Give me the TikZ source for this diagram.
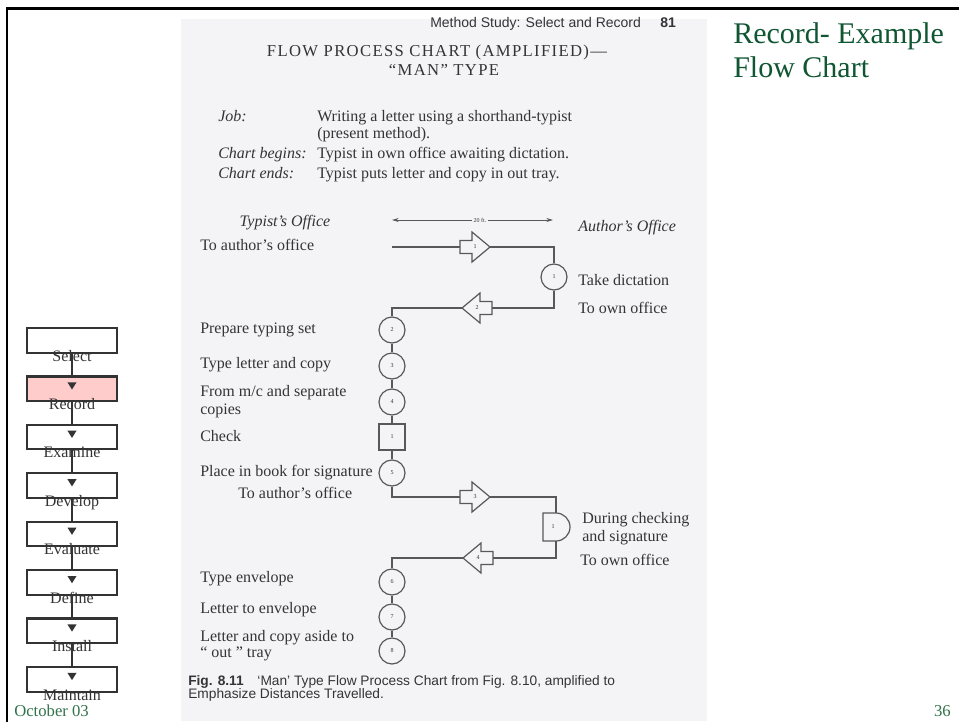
\documentclass[tikz,border=0pt]{standalone}
\usepackage{fontspec}
\setmainfont{Liberation Serif}
\setsansfont{Liberation Sans}
\newfontfamily\spacedserif[LetterSpace=8]{Liberation Serif}
\usetikzlibrary{arrows.meta}
\definecolor{scanbg}{RGB}{244,244,247}
\definecolor{ink}{RGB}{52,52,56}
\definecolor{chartline}{RGB}{88,88,92}
\definecolor{sideink}{RGB}{51,51,51}
\definecolor{pinkfill}{RGB}{255,204,204}
\definecolor{titlegreen}{RGB}{16,86,50}
\definecolor{footgreen}{RGB}{50,115,75}
\tikzset{
  tarrow/.pic={
    \draw[chartline, line width=0.9pt, fill=scanbg, line join=miter]
      (0,-6.5) -- (12,-6.5) -- (12,-15) -- (30,0) -- (12,15) -- (12,6.5) -- (0,6.5) -- cycle;
    \node[font=\fontsize{4.5}{5}\selectfont, text=ink, inner sep=0pt] at (15,0) {#1};
    \coordinate (-t) at (0,0);
    \coordinate (-h) at (30,0);
  }
}
\begin{document}
\begin{tikzpicture}[x=0.75pt,y=-0.75pt,
  sbox/.style={draw=sideink, line width=1.6pt, fill=white, minimum width=67.5pt, minimum height=18.4pt, inner sep=0pt},
  slabel/.style={anchor=base, inner sep=0pt, text=sideink, font=\fontsize{12}{14}\selectfont},
  sconn/.style={draw=sideink, line width=1.8pt},
  stri/.style={fill=sideink},
  ctext/.style={anchor=mid west, inner sep=0pt, text=ink, font=\fontsize{12}{13}\selectfont},
  ctexti/.style={ctext, font=\fontsize{12}{13}\selectfont\itshape},
  opc/.style={circle, draw=chartline, line width=0.9pt, minimum size=19.5pt, inner sep=0pt, fill=scanbg, text=ink, font=\fontsize{4.5}{5}\selectfont},
  insp/.style={rectangle, draw=chartline, line width=0.9pt, minimum size=19.5pt, inner sep=0pt, fill=scanbg, text=ink, font=\fontsize{4.5}{5}\selectfont},
  conn/.style={draw=chartline, line width=0.9pt},
  dim/.style={draw=chartline, line width=0.7pt, -{Stealth[length=5pt,width=3pt]}},
]
\useasboundingbox (0,0) rectangle (959,721);
\fill[white] (0,0) rectangle (959,721);
% scanned page
\fill[scanbg] (181,19) rectangle (707,721);
% frame
\draw[line width=2.1pt, line cap=rect] (7,721) -- (7,8.5) -- (959,8.5);

% title
\node[anchor=base west, inner sep=0pt, text=titlegreen, font=\fontsize{22.5}{26}\selectfont] (title1) at (733,43) {Record- Example};
\node[anchor=base west, inner sep=0pt, text=titlegreen, font=\fontsize{22.5}{26}\selectfont] (title2) at (733,77) {Flow Chart};
% footer
\node[anchor=base west, inner sep=0pt, text=footgreen, font=\fontsize{12.5}{14}\selectfont] (date) at (14,716.5) {October 03};
\node[anchor=base east, inner sep=0pt, text=footgreen, font=\fontsize{12.5}{14}\selectfont] (page) at (951,716.5) {36};

% sidebar
\node[sbox] (b1) at (72,340.3) {};
\node[sbox, fill=pinkfill] (b2) at (72,388.7) {};
\node[sbox] (b3) at (72,437.1) {};
\node[sbox] (b4) at (72,485.6) {};
\node[sbox] (b5) at (72,534.0) {};
\node[sbox] (b6) at (72,582.4) {};
\node[sbox] (b7) at (72,630.8) {};
\node[sbox] (b8) at (72,679.3) {};
\draw[sconn] (b1.south) -- (b2.north);
\draw[sconn] (b2.south) -- (b3.north);
\draw[sconn] (b3.south) -- (b4.north);
\draw[sconn] (b4.south) -- (b5.north);
\draw[sconn] (b5.south) -- (b6.north);
\draw[sconn] (b6.south) -- (b7.north);
\draw[sconn] (b7.south) -- (b8.north);
\foreach \b in {b2,b3,b4,b5,b6,b7,b8}{
  \fill[stri] ([yshift=-5.2pt]\b.north) ++(-3.4pt,0) -- ++(6.8pt,0) -- ++(-3.4pt,-5.4pt) -- cycle;
}
\node[slabel] (l1) at ([yshift=-5.6pt]b1.south) {Select};
\node[slabel] (l2) at ([yshift=-5.6pt]b2.south) {Record};
\node[slabel] (l3) at ([yshift=-5.6pt]b3.south) {Examine};
\node[slabel] (l4) at ([yshift=-5.6pt]b4.south) {Develop};
\node[slabel] (l5) at ([yshift=-5.6pt]b5.south) {Evaluate};
\node[slabel] (l6) at ([yshift=-5.6pt]b6.south) {Define};
\node[slabel] (l7) at ([yshift=-5.6pt]b7.south) {Install};
\node[slabel] (l8) at ([yshift=-5.6pt]b8.south) {Maintain};

% page header of scan
\node[anchor=base west, inner sep=0pt, text=ink, font=\sffamily\fontsize{10.5}{12}\selectfont] (runhead) at (430,27.5) {Method Study: Select and Record};
\node[anchor=base west, inner sep=0pt, text=ink, font=\sffamily\bfseries\fontsize{10.5}{12}\selectfont] (pgno) at (660,27.5) {81};
\node[anchor=base, inner sep=0pt, text=ink, font=\spacedserif\fontsize{12.5}{14}\selectfont] (hd1) at (437,56.5) {FLOW PROCESS CHART (AMPLIFIED)—};
\node[anchor=base, inner sep=0pt, text=ink, font=\spacedserif\fontsize{12.5}{14}\selectfont] (hd2) at (444,75) {“MAN” TYPE};

\node[ctexti] (job) at (218,118) {Job:};
\node[ctext] (jobt1) at (317,118) {Writing a letter using a shorthand-typist};
\node[ctext] (jobt2) at (317,135) {(present method).};
\node[ctexti] (cb) at (218,155) {Chart begins:};
\node[ctext] (cbt) at (317,155) {Typist in own office awaiting dictation.};
\node[ctexti] (ce) at (218,175) {Chart ends:};
\node[ctext] (cet) at (317,175) {Typist puts letter and copy in out tray.};

% column headings and distance
\node[ctexti, anchor=mid] (typoff) at (285,223) {Typist’s Office};
\node[ctexti] (autoff) at (578,228) {Author’s Office};
\node[inner sep=1pt, text=ink, font=\fontsize{4.5}{5}\selectfont] (ft) at (480,220) {20 ft.};
\coordinate (dl) at (392,220);
\coordinate (dr) at (553,220);
\draw[dim] (ft.west) -- (dl);
\draw[dim] (ft.east) -- (dr);

% symbols
\coordinate (s0) at (392,247);
\pic (a1) at (460,247) {tarrow={1}};
\node[opc] (c1) at (554,277) {1};
\pic[xscale=-1] (a2) at (492,308) {tarrow={2}};
\node[opc] (c2) at (392,330) {2};
\node[opc] (c3) at (392,366) {3};
\node[opc] (c4) at (392,402) {4};
\node[insp] (sq1) at (392,437) {1};
\node[opc] (c5) at (392,473) {5};
\pic (a3) at (460,497) {tarrow={3}};
\coordinate (d1t) at (556,513);
\coordinate (d1b) at (556,541);
\draw[chartline, line width=0.9pt, fill=scanbg] (543,513) -- (d1t) arc[start angle=90, end angle=-90, radius=10.5pt] -- (543,541) -- cycle;
\node[inner sep=0pt, text=ink, font=\fontsize{4.5}{5}\selectfont] (d1) at (553,527) {1};
\pic[xscale=-1] (a4) at (493,558) {tarrow={4}};
\node[opc] (c6) at (392,582) {6};
\node[opc] (c7) at (392,617) {7};
\node[opc] (c8) at (392,651) {8};

% connectors
\draw[conn] (s0) -- (a1-t);
\draw[conn] (a1-h) -| (c1);
\draw[conn] (c1) |- (a2-t);
\draw[conn] (a2-h) -| (c2);
\draw[conn] (c2) -- (c3);
\draw[conn] (c3) -- (c4);
\draw[conn] (c4) -- (sq1);
\draw[conn] (sq1) -- (c5);
\draw[conn] (c5) |- (a3-t);
\draw[conn] (a3-h) -| (d1t);
\draw[conn] (d1b) |- (a4-t);
\draw[conn] (a4-h) -| (c6);
\draw[conn] (c6) -- (c7);
\draw[conn] (c7) -- (c8);

% labels
\node[ctext] (t1) at (200,247) {To author’s office};
\node[ctext] (t2) at (578,282) {Take dictation};
\node[ctext] (t3) at (578,310) {To own office};
\node[ctext] (t4) at (200,330) {Prepare typing set};
\node[ctext] (t5) at (200,365) {Type letter and copy};
\node[ctext] (t6) at (200,393) {From m/c and separate};
\node[ctext] (t6b) at (200,411) {copies};
\node[ctext] (t7) at (200,438) {Check};
\node[ctext] (t8) at (200,473) {Place in book for signature};
\node[ctext] (t9) at (238,495) {To author’s office};
\node[ctext] (t10) at (582,520) {During checking};
\node[ctext] (t10b) at (582,538) {and signature};
\node[ctext] (t11) at (580,562) {To own office};
\node[ctext] (t12) at (200,579) {Type envelope};
\node[ctext] (t13) at (200,610) {Letter to envelope};
\node[ctext] (t14) at (200,638) {Letter and copy aside to};
\node[ctext] (t14b) at (200,654) {“ out ” tray};

% caption
\node[anchor=base west, inner sep=0pt, text=ink, font=\sffamily\fontsize{10.3}{12}\selectfont] (cap1) at (188,685) {\textbf{Fig. 8.11}\quad ‘Man’ Type Flow Process Chart from Fig. 8.10, amplified to};
\node[anchor=base west, inner sep=0pt, text=ink, font=\sffamily\fontsize{10.3}{12}\selectfont] (cap2) at (188,698) {Emphasize Distances Travelled.};
\end{tikzpicture}
\end{document}
